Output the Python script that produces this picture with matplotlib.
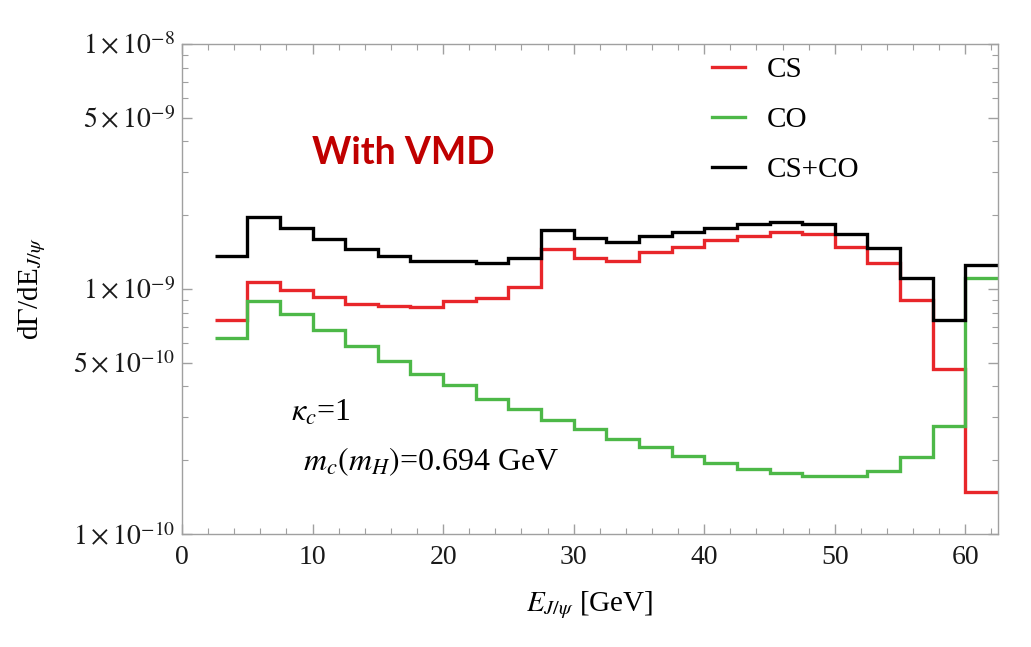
"""
dGamma/dE_J/psi step histograms, CS / CO / CS+CO, with VMD
"""

import matplotlib.pyplot as plt
import numpy as np

plt.rcParams['font.family'] = 'serif'
plt.rcParams['font.serif'] = ['Liberation Serif', 'DejaVu Serif']
plt.rcParams['mathtext.fontset'] = 'stix'

# bin edges in GeV (width 2.5)
edges = np.arange(2.5, 62.5 + 0.01, 2.5)

cs = [7.44e-10, 1.07e-9, 0.995e-9, 0.927e-9, 0.871e-9, 0.855e-9, 0.844e-9, 0.893e-9,
      0.922e-9, 1.019e-9, 1.453e-9, 1.343e-9, 1.306e-9, 1.42e-9, 1.49e-9, 1.586e-9,
      1.643e-9, 1.706e-9, 1.679e-9, 1.486e-9, 1.282e-9, 9.04e-10, 4.71e-10, 1.48e-10]
co = [6.28e-10, 8.96e-10, 7.88e-10, 6.80e-10, 5.86e-10, 5.09e-10, 4.50e-10, 4.05e-10,
      3.57e-10, 3.23e-10, 2.92e-10, 2.69e-10, 2.45e-10, 2.26e-10, 2.09e-10, 1.95e-10,
      1.845e-10, 1.77e-10, 1.73e-10, 1.73e-10, 1.815e-10, 2.07e-10, 2.75e-10, 1.112e-9]
tot = [1.368e-9, 1.96e-9, 1.78e-9, 1.60e-9, 1.458e-9, 1.368e-9, 1.302e-9, 1.30e-9,
       1.282e-9, 1.343e-9, 1.744e-9, 1.61e-9, 1.552e-9, 1.648e-9, 1.711e-9, 1.782e-9,
       1.839e-9, 1.88e-9, 1.85e-9, 1.674e-9, 1.467e-9, 1.112e-9, 7.49e-10, 1.254e-9]

ytick_vals = [1e-10, 5e-10, 1e-9, 5e-9, 1e-8]
ytick_labels = [r'$1\times10^{-10}$', r'$5\times10^{-10}$', r'$1\times10^{-9}$',
                r'$5\times10^{-9}$', r'$1\times10^{-8}$']

fig = plt.figure(figsize=(10.31, 6.47), dpi=100)
ax = fig.add_axes([0.1765, 0.1747, 0.968 - 0.1765, 0.932 - 0.1747])

lw = 2.4
ax.stairs(cs, edges, baseline=None, color='#e8262a', lw=lw, label='CS')
ax.stairs(co, edges, baseline=None, color='#4db848', lw=lw, label='CO')
ax.stairs(tot, edges, baseline=None, color='black', lw=lw, label='CS+CO')

ax.set_yscale('log')
ax.set_ylim(1e-10, 1e-8)
ax.set_xlim(0, 62.5)

ax.set_yticks(ytick_vals)
ax.set_yticklabels(ytick_labels)
minor = [m * 10.0 ** e for e in (-10, -9) for m in (2, 3, 4, 6, 7, 8, 9)]
ax.set_yticks(minor, minor=True)
ax.set_xticks(np.arange(0, 61, 10))
ax.set_xticks(np.arange(0, 63, 2), minor=True)

for s in ax.spines.values():
    s.set_color('#a0a0a0')
    s.set_linewidth(1.0)
ax.tick_params(which='both', direction='in', top=True, right=True, color='#a0a0a0',
               labelsize=20, labelcolor='#1a1a1a')
ax.tick_params(which='major', length=7, width=1)
ax.tick_params(which='minor', length=4, width=0.8)
ax.tick_params(axis='y', which='both', pad=5)
ax.tick_params(axis='x', which='both', pad=8)

ax.set_xlabel(r'$E_{J/\psi}$ [GeV]', fontsize=21, labelpad=14)
ax.set_ylabel(r'd$\Gamma$/dE$_{J/\psi}$', fontsize=21, labelpad=18)

ax.legend(loc='upper left', bbox_to_anchor=(0.617, 1.027), frameon=False, fontsize=21,
          handlelength=1.15, handletextpad=0.75, labelspacing=0.8)

ax.text(0.159, 0.755, 'With VMD', transform=ax.transAxes, fontsize=27,
        fontweight='bold', color='#c00000', family='Lato')
ax.text(0.133, 0.23, r'$\kappa_c$=1', transform=ax.transAxes, fontsize=23)
ax.text(0.148, 0.13, r'$m_c(m_H)$=0.694 GeV', transform=ax.transAxes, fontsize=23)

plt.savefig('out.png', dpi=100)
